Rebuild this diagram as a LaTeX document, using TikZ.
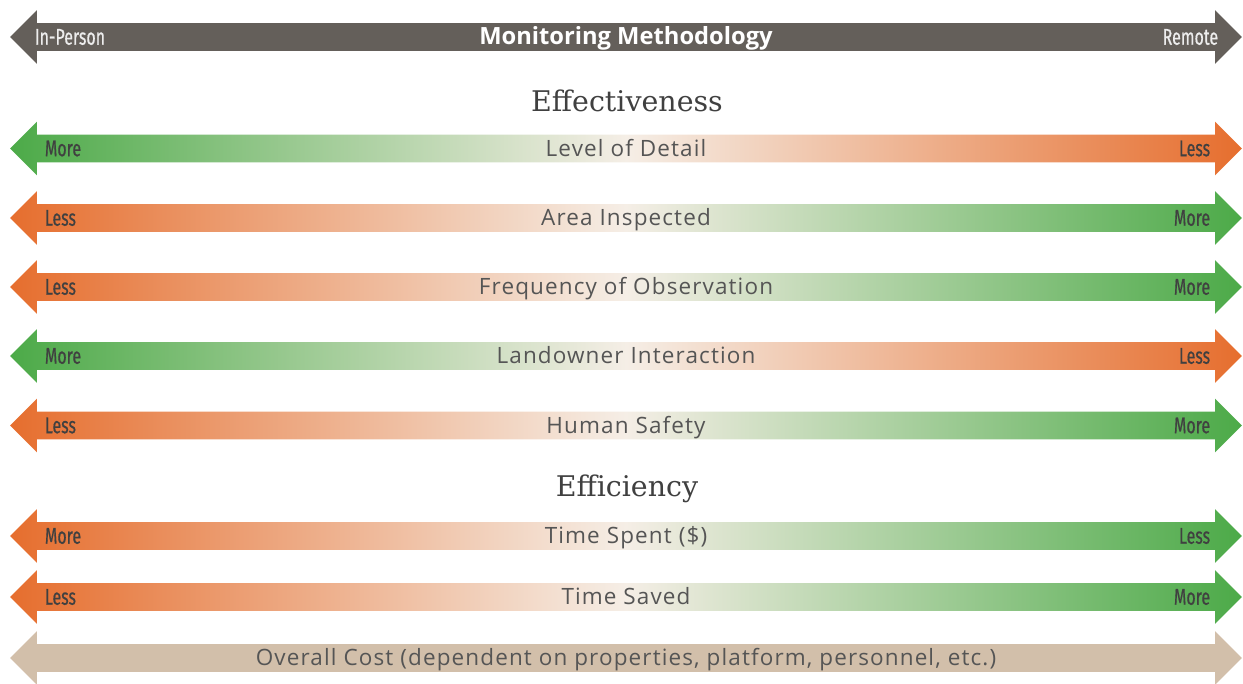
\documentclass[tikz,border=0pt]{standalone}
\usepackage{fontspec}
\usetikzlibrary{shapes.arrows, positioning}

\newfontfamily\labelfont{Open Sans}[LetterSpace=5]
\newfontfamily\tagfont{Fira Sans}[FakeStretch=0.7, FakeBold=0.5]
\newfontfamily\headfont{DejaVu Serif}
\newfontfamily\titlefont{Open Sans}

\definecolor{moregreen}{RGB}{76,170,72}
\definecolor{lessorange}{RGB}{230,110,46}
\definecolor{paleground}{RGB}{245,238,230}
\definecolor{costtan}{RGB}{210,191,170}
\definecolor{methodgray}{RGB}{100,95,90}
\definecolor{labelgray}{RGB}{85,85,85}
\definecolor{taggray}{RGB}{64,64,64}

\begin{document}
\begin{tikzpicture}[x=0.02cm, y=-0.02cm]
    % Styles for the bars
    \tikzstyle{scalebar} = [double arrow, double arrow head extend=0.26cm, minimum height=24.64cm, inner xsep=0pt, inner ysep=0pt, text height=0.42cm, text depth=0.12cm, text=labelgray, font=\labelfont\fontsize{12.8}{15}\selectfont]
    \tikzstyle{greenleft} = [scalebar, left color=moregreen, right color=lessorange, middle color=paleground]
    \tikzstyle{orangeleft} = [scalebar, left color=lessorange, right color=moregreen, middle color=paleground]
    \tikzstyle{tag} = [inner sep=0pt, text=taggray, font=\tagfont\fontsize{13}{15}\selectfont]
    \tikzstyle{heading} = [inner sep=0pt, text=taggray, font=\headfont\fontsize{16.2}{19}\selectfont]

    \useasboundingbox (0,0) rectangle (1243,683);

    % Methodology bar
    \node (method) [scalebar, fill=methodgray, text=white, font=\titlefont\bfseries\fontsize{13.5}{16}\selectfont] at (626,37) {Monitoring Methodology};
    \node [tag, text=white!93!black, right=0.5cm of method.west] {In-Person};
    \node [tag, text=white!93!black, left=0.48cm of method.east] {Remote};

    % Effectiveness
    \node (effect) [heading] at (627,101) {Effectiveness};

    \node (detail) [greenleft] at (626,148.5) {Level of Detail};
    \node [tag, right=0.7cm of detail.west] {More};
    \node [tag, left=0.64cm of detail.east] {Less};

    \node (area) [orangeleft] at (626,218) {Area Inspected};
    \node [tag, right=0.7cm of area.west] {Less};
    \node [tag, left=0.64cm of area.east] {More};

    \node (freq) [orangeleft] at (626,287) {Frequency of Observation};
    \node [tag, right=0.7cm of freq.west] {Less};
    \node [tag, left=0.64cm of freq.east] {More};

    \node (owner) [greenleft] at (626,356) {Landowner Interaction};
    \node [tag, right=0.7cm of owner.west] {More};
    \node [tag, left=0.64cm of owner.east] {Less};

    \node (safety) [orangeleft] at (626,425.5) {Human Safety};
    \node [tag, right=0.7cm of safety.west] {Less};
    \node [tag, left=0.64cm of safety.east] {More};

    % Efficiency
    \node (effic) [heading] at (627,489) {Efficiency};

    \node (spent) [orangeleft] at (626,536) {Time Spent (\$)};
    \node [tag, right=0.7cm of spent.west] {More};
    \node [tag, left=0.64cm of spent.east] {Less};

    \node (saved) [orangeleft] at (626,597) {Time Saved};
    \node [tag, right=0.7cm of saved.west] {Less};
    \node [tag, left=0.64cm of saved.east] {More};

    \node (cost) [scalebar, fill=costtan] at (626,658) {Overall Cost (dependent on properties, platform, personnel, etc.)};
\end{tikzpicture}
\end{document}
